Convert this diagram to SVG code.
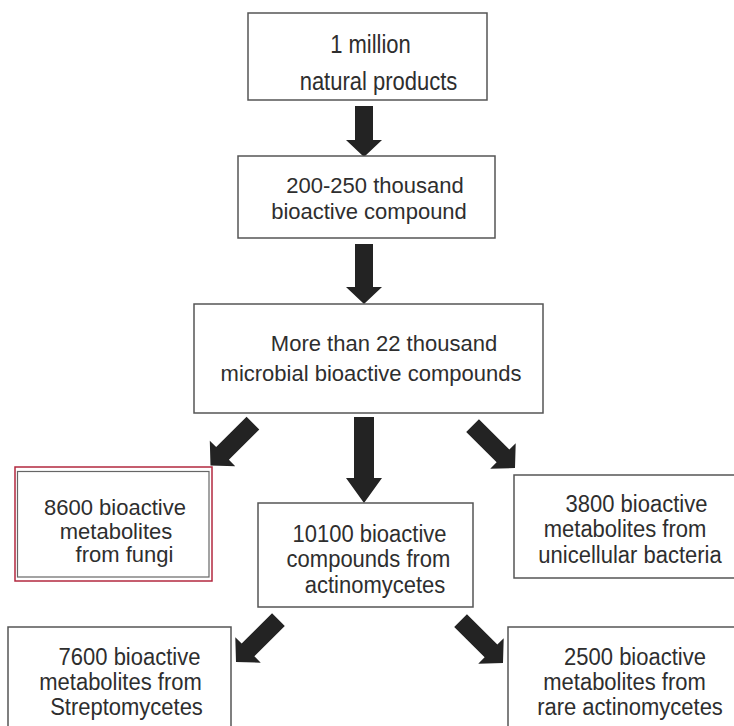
<svg xmlns="http://www.w3.org/2000/svg" width="734" height="726" viewBox="0 0 734 726">
<defs>
<style>
.box{fill:#fff;stroke:#555;stroke-width:1.5}
.t{font-family:"Liberation Sans",Arial,sans-serif;font-size:22px;fill:#2e2e2e;text-anchor:middle}
.arr{fill:#232323}
</style>
<path id="a51" d="M-9,-51 L9,-51 L9,-17 L18,-17 L0,0 L-18,-17 L-9,-17 Z"/>
<path id="a60" d="M-9,-60 L9,-60 L9,-17 L18,-17 L0,0 L-18,-17 L-9,-17 Z"/>
</defs>
<rect width="734" height="726" fill="#fff"/>
<g id="connectors" class="arr">
<use href="#a51" transform="translate(364,157)"/>
<use href="#a60" transform="translate(364,304)"/>
<path d="M-10,-86 L10,-86 L10,-25 L18,-25 L0,0 L-18,-25 L-10,-25 Z" transform="translate(364,503)"/>
<use href="#a60" transform="translate(210.5,465.5) rotate(45)"/>
<use href="#a60" transform="translate(515,468) rotate(-45)"/>
<use href="#a60" transform="translate(236,662) rotate(45)"/>
<use href="#a60" transform="translate(503,663) rotate(-45)"/>
</g>
<g id="n1">
<rect class="box" x="248" y="13" width="239" height="87"/>
<text class="t" transform="translate(370.5,53) scale(1,1.18)">1 million</text>
<text class="t" transform="translate(378.5,90) scale(1,1.18)">natural products</text>
</g>
<g id="n2">
<rect class="box" x="238" y="156" width="257" height="82"/>
<text class="t" x="375" y="193">200-250 thousand</text>
<text class="t" x="369" y="219">bioactive compound</text>
</g>
<g id="n3">
<rect class="box" x="194" y="304" width="349" height="109"/>
<text class="t" x="384" y="351">More than 22 thousand</text>
<text class="t" x="371" y="381">microbial bioactive compounds</text>
</g>
<g id="n4">
<rect x="15" y="467" width="197" height="114" fill="#fff" stroke="#b3283f" stroke-width="1.5"/>
<rect x="17.5" y="471.5" width="191.5" height="105.5" fill="none" stroke="#666" stroke-width="1.2"/>
<text class="t" x="115" y="515">8600 bioactive</text>
<text class="t" x="116" y="538.5">metabolites</text>
<text class="t" x="124.5" y="562">from fungi</text>
</g>
<g id="n5">
<rect class="box" x="258" y="503" width="215" height="104"/>
<text class="t" transform="translate(369.5,542) scale(1,1.05)">10100 bioactive</text>
<text class="t" transform="translate(368.5,567) scale(1,1.05)">compounds from</text>
<text class="t" transform="translate(375,593) scale(1,1.05)">actinomycetes</text>
</g>
<g id="n6">
<rect class="box" x="514" y="475" width="230" height="103"/>
<text class="t" transform="translate(636.5,512) scale(1,1.05)">3800 bioactive</text>
<text class="t" transform="translate(625,537) scale(1,1.05)">metabolites from</text>
<text class="t" transform="translate(630,563) scale(1,1.05)">unicellular bacteria</text>
</g>
<g id="n7">
<rect class="box" x="8" y="627" width="223" height="110"/>
<text class="t" transform="translate(129.5,665) scale(1,1.1)">7600 bioactive</text>
<text class="t" transform="translate(120.5,690) scale(1,1.1)">metabolites from</text>
<text class="t" transform="translate(126.5,715) scale(1,1.1)">Streptomycetes</text>
</g>
<g id="n8">
<rect class="box" x="508" y="627" width="236" height="110"/>
<text class="t" transform="translate(635,665) scale(1,1.1)">2500 bioactive</text>
<text class="t" transform="translate(624.5,690) scale(1,1.1)">metabolites from</text>
<text class="t" transform="translate(630,715) scale(1,1.1)">rare actinomycetes</text>
</g>
</svg>
